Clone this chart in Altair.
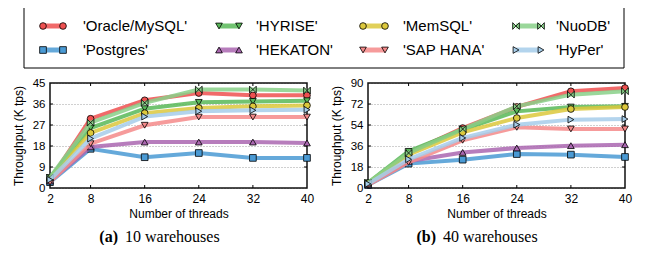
import altair as alt
import pandas as pd

threads = [2, 8, 16, 24, 32, 40]
names = ["'Oracle/MySQL'", "'Postgres'", "'HYRISE'", "'HEKATON'",
         "'MemSQL'", "'SAP HANA'", "'NuoDB'", "'HyPer'"]

# 10 warehouses (K tps)
w10_oracle   = [3.5, 29.7, 37.6, 40.7, 39.7, 39.7]
w10_postgres = [2.5, 16.8, 13.2, 15.0, 12.9, 12.9]
w10_hyrise   = [4.5, 25.7, 34.0, 36.7, 37.1, 37.4]
w10_hekaton  = [3.0, 17.6, 19.7, 19.7, 19.7, 19.3]
w10_memsql   = [4.0, 23.6, 32.1, 34.3, 35.0, 35.4]
w10_saphana  = [2.5, 19.0, 26.9, 30.4, 30.4, 30.4]
w10_nuodb    = [4.5, 28.0, 36.5, 42.2, 42.2, 41.8]
w10_hyper    = [3.5, 21.2, 30.6, 32.9, 33.3, 33.5]

# 40 warehouses (K tps)
w40_oracle   = [3.5, 30.0, 51.4, 69.5, 82.9, 85.7]
w40_postgres = [2.5, 20.9, 24.3, 29.1, 28.6, 26.6]
w40_hyrise   = [4.5, 31.4, 50.0, 65.7, 69.4, 70.0]
w40_hekaton  = [3.0, 22.9, 30.5, 34.3, 36.3, 37.1]
w40_memsql   = [4.0, 28.6, 47.7, 60.0, 67.7, 69.4]
w40_saphana  = [2.5, 22.0, 40.9, 52.0, 50.6, 50.6]
w40_nuodb    = [4.5, 30.0, 50.5, 70.0, 80.0, 82.9]
w40_hyper    = [3.5, 24.6, 42.9, 54.3, 58.6, 59.1]

w10 = [w10_oracle, w10_postgres, w10_hyrise, w10_hekaton,
       w10_memsql, w10_saphana, w10_nuodb, w10_hyper]
w40 = [w40_oracle, w40_postgres, w40_hyrise, w40_hekaton,
       w40_memsql, w40_saphana, w40_nuodb, w40_hyper]

yticks10 = [0, 9, 18, 27, 36, 45]
yticks40 = [0, 18, 36, 54, 72, 90]

colors = ["#ee5050", "#4a9ad4", "#58b858", "#aa66b0",
          "#dcc83c", "#f58a8a", "#88d088", "#a6cdea"]
bowtie = "M-1,-1L1,1L1,-1L-1,1Z"
shapes = ["circle", "square", "triangle-down", "triangle-up",
          "circle", "triangle-down", bowtie, "triangle-right"]

SANS = "Liberation Sans"
SERIF = "Liberation Serif"
PW, PH = 257, 105


def panel(series, ymax, yticks, cap_bold, cap_rest):
    xaxis = alt.Axis(values=threads, title="Number of threads", grid=False,
                     domain=False, ticks=False, labelPadding=5, titlePadding=4,
                     labelFlush=False,
                     labelFontSize=12, titleFontSize=12, labelFont=SANS,
                     titleFont=SANS, titleFontWeight="normal",
                     labelColor="black", titleColor="black")
    yaxis = alt.Axis(values=yticks, title="Throughput (K tps)", grid=True,
                     gridDash=[1, 2], gridColor="#888", gridWidth=0.8,
                     domain=False, ticks=False, labelPadding=5, titlePadding=7,
                     labelFlush=False,
                     labelFontSize=11.5, titleFontSize=12, labelFont=SANS,
                     titleFont=SANS, titleFontWeight="normal",
                     labelColor="black", titleColor="black")
    xs = alt.Scale(domain=[2, 40], nice=False, zero=False)
    ys = alt.Scale(domain=[0, ymax], nice=False)
    X = alt.X("threads:Q", scale=xs, axis=xaxis)
    Y = alt.Y("tps:Q", scale=ys, axis=yaxis)

    frame = alt.Chart(pd.DataFrame({"a": [0]})).mark_rect(
        filled=False, stroke="#111", strokeWidth=1.5
    ).encode(x=alt.value(0), x2=alt.value(PW), y=alt.value(0), y2=alt.value(PH))

    xt = pd.DataFrame({"threads": threads[1:-1]})
    yt = pd.DataFrame({"tps": yticks[1:-1]})
    tick_style = dict(color="black", strokeWidth=1)
    ticks = [
        alt.Chart(xt).mark_rule(**tick_style).encode(x=X, y=alt.value(PH), y2=alt.value(PH - 3)),
        alt.Chart(xt).mark_rule(**tick_style).encode(x=X, y=alt.value(0), y2=alt.value(3)),
        alt.Chart(yt).mark_rule(**tick_style).encode(y=Y, x=alt.value(0), x2=alt.value(3)),
        alt.Chart(yt).mark_rule(**tick_style).encode(y=Y, x=alt.value(PW), x2=alt.value(PW - 3)),
    ]

    layers = [frame] + ticks
    for i, name in enumerate(names):
        df = pd.DataFrame({"threads": threads, "tps": series[i], "db": name})
        base = alt.Chart(df).encode(x=X, y=Y)
        layers.append(base.mark_line(color=colors[i], strokeWidth=4, opacity=0.85))
        layers.append(base.mark_point(shape=shapes[i], filled=True, fill=colors[i],
                                      stroke="black", strokeWidth=0.8, size=45,
                                      opacity=1))
    cap = pd.DataFrame({"b": [cap_bold], "r": [cap_rest]})
    layers.append(alt.Chart(cap).mark_text(font=SERIF, fontSize=16, fontWeight="bold",
                                           align="right", baseline="alphabetic",
                                           color="black")
                  .encode(x=alt.value(68), y=alt.value(159), text="b:N"))
    layers.append(alt.Chart(cap).mark_text(font=SERIF, fontSize=16, fontWeight="normal",
                                           align="left", baseline="alphabetic",
                                           color="black")
                  .encode(x=alt.value(75), y=alt.value(159), text="r:N"))
    return alt.layer(*layers).properties(width=PW, height=PH)


# legend layout, in pixels relative to the legend box
BOX_W, BOX_H = 600, 63
BOX_X0 = -26
col_m1 = [19, 195, 339, 492]
col_m2 = [39, 215, 361, 517]
col_t = [59, 232, 379, 532]
row_y = [21, 45]
leg = pd.DataFrame({
    "db": names,
    "x1": [col_m1[i // 2] for i in range(len(names))],
    "x2": [col_m2[i // 2] for i in range(len(names))],
    "xt": [col_t[i // 2] for i in range(len(names))],
    "y": [row_y[i % 2] for i in range(len(names))],
})
lx = alt.Scale(domain=[0, BOX_W], range=[BOX_X0, BOX_X0 + BOX_W])
ly = alt.Scale(domain=[0, BOX_H], range=[0, BOX_H])
cscale = alt.Scale(domain=names, range=colors)
sscale = alt.Scale(domain=names, range=shapes)

box = alt.Chart(pd.DataFrame({"a": [0]})).mark_rect(
    fill="white", stroke="black", strokeWidth=1
).encode(x=alt.value(BOX_X0), x2=alt.value(BOX_X0 + BOX_W),
         y=alt.value(0), y2=alt.value(BOX_H))
seg = alt.Chart(leg).mark_rule(strokeWidth=5, opacity=0.85).encode(
    x=alt.X("x1:Q", scale=lx, axis=None), x2="x2:Q",
    y=alt.Y("y:Q", scale=ly, axis=None),
    color=alt.Color("db:N", scale=cscale, legend=None))
p1 = alt.Chart(leg).mark_point(filled=True, stroke="black", strokeWidth=0.8,
                               size=45, opacity=1).encode(
    x=alt.X("x1:Q", scale=lx, axis=None), y=alt.Y("y:Q", scale=ly, axis=None),
    color=alt.Color("db:N", scale=cscale, legend=None),
    shape=alt.Shape("db:N", scale=sscale, legend=None))
p2 = alt.Chart(leg).mark_point(filled=True, stroke="black", strokeWidth=0.8,
                               size=45, opacity=1).encode(
    x=alt.X("x2:Q", scale=lx, axis=None), y=alt.Y("y:Q", scale=ly, axis=None),
    color=alt.Color("db:N", scale=cscale, legend=None),
    shape=alt.Shape("db:N", scale=sscale, legend=None))
txt = alt.Chart(leg).mark_text(font=SANS, fontSize=15, align="left",
                               baseline="middle", color="black").encode(
    x=alt.X("xt:Q", scale=lx, axis=None), y=alt.Y("y:Q", scale=ly, axis=None),
    text="db:N")
legend_chart = alt.layer(box, seg, p1, p2, txt).properties(
    width=BOX_X0 + BOX_W, height=BOX_H)

left = panel(w10, 45, yticks10, "(a)", "10 warehouses")
right = panel(w40, 90, yticks40, "(b)", "40 warehouses")

chart = alt.vconcat(
    legend_chart,
    alt.hconcat(left, right, spacing=61, bounds="flush"),
    spacing=15,
    bounds="flush",
).properties(
    padding={"left": 4, "top": -4, "right": 0, "bottom": 0},
    background="white",
).configure_view(stroke="transparent", strokeWidth=0)

chart.save("out.html", embed_options={"renderer": "svg", "actions": False})
